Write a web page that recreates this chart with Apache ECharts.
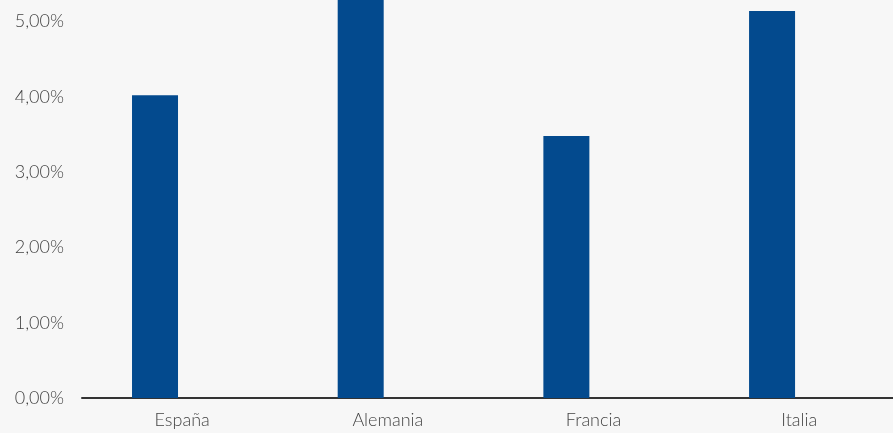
<!DOCTYPE html>
<html>
<head>
<meta charset="utf-8">
<script src="https://cdn.jsdelivr.net/npm/echarts@6/dist/echarts.min.js"></script>
<style>
  html, body { margin: 0; padding: 0; background: #f7f7f7; }
  #chart { width: 893px; height: 433px; }
</style>
</head>
<body>
<div id="chart"></div>
<script>
const categories = ['España', 'Alemania', 'Francia', 'Italia'];
const values = [4.02, 5.4, 3.48, 5.14];
const yTicks = [0, 1, 2, 3, 4, 5];

const chart = echarts.init(document.getElementById('chart'));

const fmtPct = (v) => v.toFixed(2).replace('.', ',') + '%';

chart.setOption({
  backgroundColor: '#f7f7f7',
  textStyle: { fontFamily: 'Lato', fontWeight: 300 },
  grid: { left: 82, right: 0, top: 0, bottom: 35 },
  xAxis: {
    type: 'value',
    min: -0.355,
    max: 3.588,
    splitLine: { show: false },
    axisLine: { show: true, onZero: false, lineStyle: { color: '#333', width: 2 } },
    axisTick: { show: false },
    axisLabel: {
      // labels sit a little right of the bars in the original
      customValues: categories.map((c, i) => i + 0.132),
      formatter: (v) => categories[Math.round(v)],
      color: '#444',
      fontSize: 18,
      fontFamily: 'Lato',
      fontWeight: 300,
      margin: 13
    }
  },
  yAxis: {
    type: 'value',
    min: 0,
    max: 5.285,
    splitLine: { show: false },
    axisLine: { show: false },
    axisTick: { show: false },
    axisLabel: {
      customValues: yTicks,
      formatter: fmtPct,
      color: '#444',
      fontSize: 18,
      fontFamily: 'Lato',
      fontWeight: 300,
      margin: 18
    }
  },
  series: [{
    type: 'bar',
    barWidth: 46,
    itemStyle: { color: '#034a8e' },
    data: values.map((v, i) => [i, v])
  }]
});
</script>
</body>
</html>
